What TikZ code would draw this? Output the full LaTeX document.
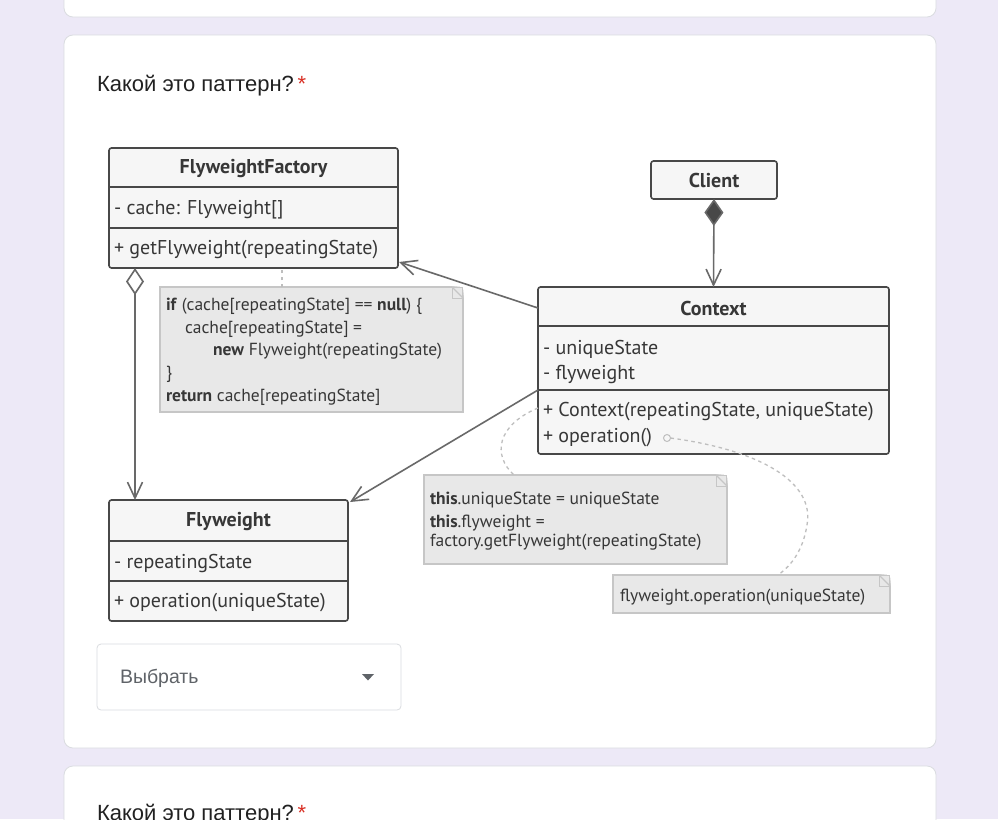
\documentclass[tikz,border=0pt]{standalone}
\usepackage{fontspec}
\setmainfont{PT Sans}
\newfontfamily\formfont{Liberation Sans}
\usetikzlibrary{arrows.meta,positioning,calc}

\definecolor{pagebg}{RGB}{237,233,247}
\definecolor{cardline}{RGB}{218,220,224}
\definecolor{umlline}{RGB}{72,72,72}
\definecolor{umlfill}{RGB}{246,246,246}
\definecolor{umltext}{RGB}{55,55,55}
\definecolor{notefill}{RGB}{232,232,232}
\definecolor{noteline}{RGB}{198,198,198}
\definecolor{linkgray}{RGB}{105,105,105}
\definecolor{dotgray}{RGB}{190,190,190}
\definecolor{askred}{RGB}{217,48,37}
\definecolor{hintgray}{RGB}{95,99,104}

\begin{document}
\begin{tikzpicture}[x=1pt,y=-1pt,
    every node/.style={inner sep=0pt,outer sep=0pt},
    card/.style={fill=white,draw=cardline,line width=0.8pt,rounded corners=9pt},
    classbox/.style={draw=umlline,fill=umlfill,line width=1.6pt,rounded corners=2.5pt,anchor=north west},
    classname/.style={font=\fontsize{20}{24}\selectfont\bfseries,text=umltext},
    member/.style={font=\fontsize{20}{24}\selectfont,text=umltext,anchor=west},
    sep/.style={draw=umlline,line width=1.6pt},
    notebox/.style={draw=noteline,fill=notefill,line width=1.2pt,anchor=north west},
    notetext/.style={font=\fontsize{17.5}{22.75}\selectfont,text=umltext,align=left,anchor=north west},
    link/.style={draw=linkgray,line width=1.6pt},
    openhead/.style={-{Straight Barb[length=16pt,width=15pt]}},
    composition/.style={{Diamond[length=27pt,width=19pt,fill=umlline]}-{Straight Barb[length=16pt,width=15pt]}},
    aggregation/.style={{Diamond[length=27pt,width=18pt,fill=white]}-{Straight Barb[length=16pt,width=15pt]}},
    dotlink/.style={draw=dotgray,line width=1.3pt,dash pattern=on 3.5pt off 3.5pt},
    formtitle/.style={font=\formfont\fontsize{22}{26}\selectfont,text=black!87,anchor=west}]

% page and cards
\fill[pagebg] (0,0) rectangle (998,819);
\useasboundingbox (0,0) rectangle (998,819);
\clip (0,0) rectangle (998,819);
\draw[card] (64,-20) rectangle (936,17);
\draw[card] (64,35) rectangle (936,748);
\draw[card] (64,766) rectangle (936,850);

\node[formtitle] (question) at (97,86) {Какой это паттерн?\,\textcolor{askred}{*}};
\node[formtitle] (nextquestion) at (97,815) {Какой это паттерн?\,\textcolor{askred}{*}};

% dropdown
\node[draw=cardline,line width=0.8pt,rounded corners=4pt,minimum width=304,minimum height=66,anchor=north west] (select) at (97,644) {};
\node[font=\formfont\fontsize{19.5}{23}\selectfont,text=hintgray,anchor=west] (selecttext) at ([xshift=23pt,yshift=-1pt]select.west) {Выбрать};
\fill[hintgray] (362,674) -- (374,674) -- (368,680.5) -- cycle;

% notes
\node[notebox,minimum width=303,minimum height=125] (note1) at (160,287) {};
\node[notebox,minimum width=303,minimum height=89] (note2) at (424,475) {};
\node[notebox,minimum width=277,minimum height=38] (note3) at (613,575) {};
\foreach \n in {note1,note2,note3}{
  \fill[white] (\n.north east) -- ++(-11,-1) -- ++(12,0) -- ++(0,12) -- cycle;
  \draw[draw=noteline,line width=1.2pt] ([xshift=-11pt]\n.north east) -- ([yshift=-11pt]\n.north east) -- (\n.south east);
  \draw[draw=noteline,line width=1.0pt] ([xshift=-11pt]\n.north east) -- ([xshift=-11pt,yshift=-11pt]\n.north east) -- ([yshift=-11pt]\n.north east);
}

\node[notetext] (note1text) at (166,298) {\textbf{if} (cache[repeatingState] == \textbf{null}) \{\\
  \hspace*{19pt}cache[repeatingState] =\\
  \hspace*{47pt}\textbf{new} Flyweight(repeatingState)\\
  \}\\
  \textbf{return} cache[repeatingState]};
\node[notetext,font=\fontsize{17.5}{19}\selectfont] (note2text) at (430,492) {\textbf{this}.uniqueState = uniqueState\\[4pt]
  \textbf{this}.flyweight =\\
  factory.getFlyweight(repeatingState)};
\node[notetext,anchor=west] (note3text) at (620,597) {flyweight.operation(uniqueState)};

% classes
\node[classbox,minimum width=289,minimum height=120] (factory) at (109,148) {};
\node[classname] (factoryname) at (253.5,169) {FlyweightFactory};
\node[member] (cache) at (114,210) {- cache: Flyweight[]};
\node[member] (getfly) at (114,250) {+ getFlyweight(repeatingState)};
\draw[sep] (factory.west |- 0,187) -- (factory.east |- 0,187);
\draw[sep] (factory.west |- 0,228) -- (factory.east |- 0,228);

\node[classbox,anchor=center,minimum width=126,minimum height=38,font=\fontsize{20}{24}\selectfont\bfseries,text=umltext] (client) at (714,180) {Client};

\node[classbox,minimum width=351,minimum height=167] (context) at (538,287) {};
\node[classname] (contextname) at (713.5,308) {Context};
\node[member] (unique) at (543,349) {- uniqueState};
\node[member] (flyfield) at (543,374) {- flyweight};
\node[member] (ctor) at (543,412) {+ Context(repeatingState, uniqueState)};
\node[member] (operation) at (543,438) {+ operation()};
\draw[sep] (context.west |- 0,326) -- (context.east |- 0,326);
\draw[sep] (context.west |- 0,390) -- (context.east |- 0,390);

\node[classbox,minimum width=239,minimum height=121] (flyweight) at (109,500) {};
\node[classname] (flyweightname) at (228.5,522) {Flyweight};
\node[member] (repeating) at (114,563) {- repeatingState};
\node[member] (flyop) at (114,603) {+ operation(uniqueState)};
\draw[sep] (flyweight.west |- 0,541) -- (flyweight.east |- 0,541);
\draw[sep] (flyweight.west |- 0,581) -- (flyweight.east |- 0,581);

% relations
\draw[link,composition] (client.south) -- (context.north);
\draw[link,openhead] ([yshift=-21pt]context.north west) -- ([xshift=1pt,yshift=6pt]factory.south east);
\draw[link,openhead] ([yshift=-103pt]context.north west) -- ([xshift=2pt,yshift=-2pt]flyweight.north east);
\draw[link,aggregation] ([xshift=26pt]factory.south west) -- ([xshift=26pt]flyweight.north west);

% note links
\node[circle,draw=dotgray,line width=1pt,minimum size=7pt] (opdot) at (667,438) {};
\draw[dotlink] ([xshift=122pt]note1.north west) -- ([xshift=173pt]factory.south west);
\draw[dotlink] ([yshift=-121pt]context.north west) .. controls (497,425) and (492,455) .. ([xshift=90pt]note2.north west);
\draw[dotlink] (opdot.east) .. controls (760,450) and (815,482) .. (807,525) .. controls (803,550) and (792,565) .. ([xshift=165pt]note3.north west);
\end{tikzpicture}
\end{document}
